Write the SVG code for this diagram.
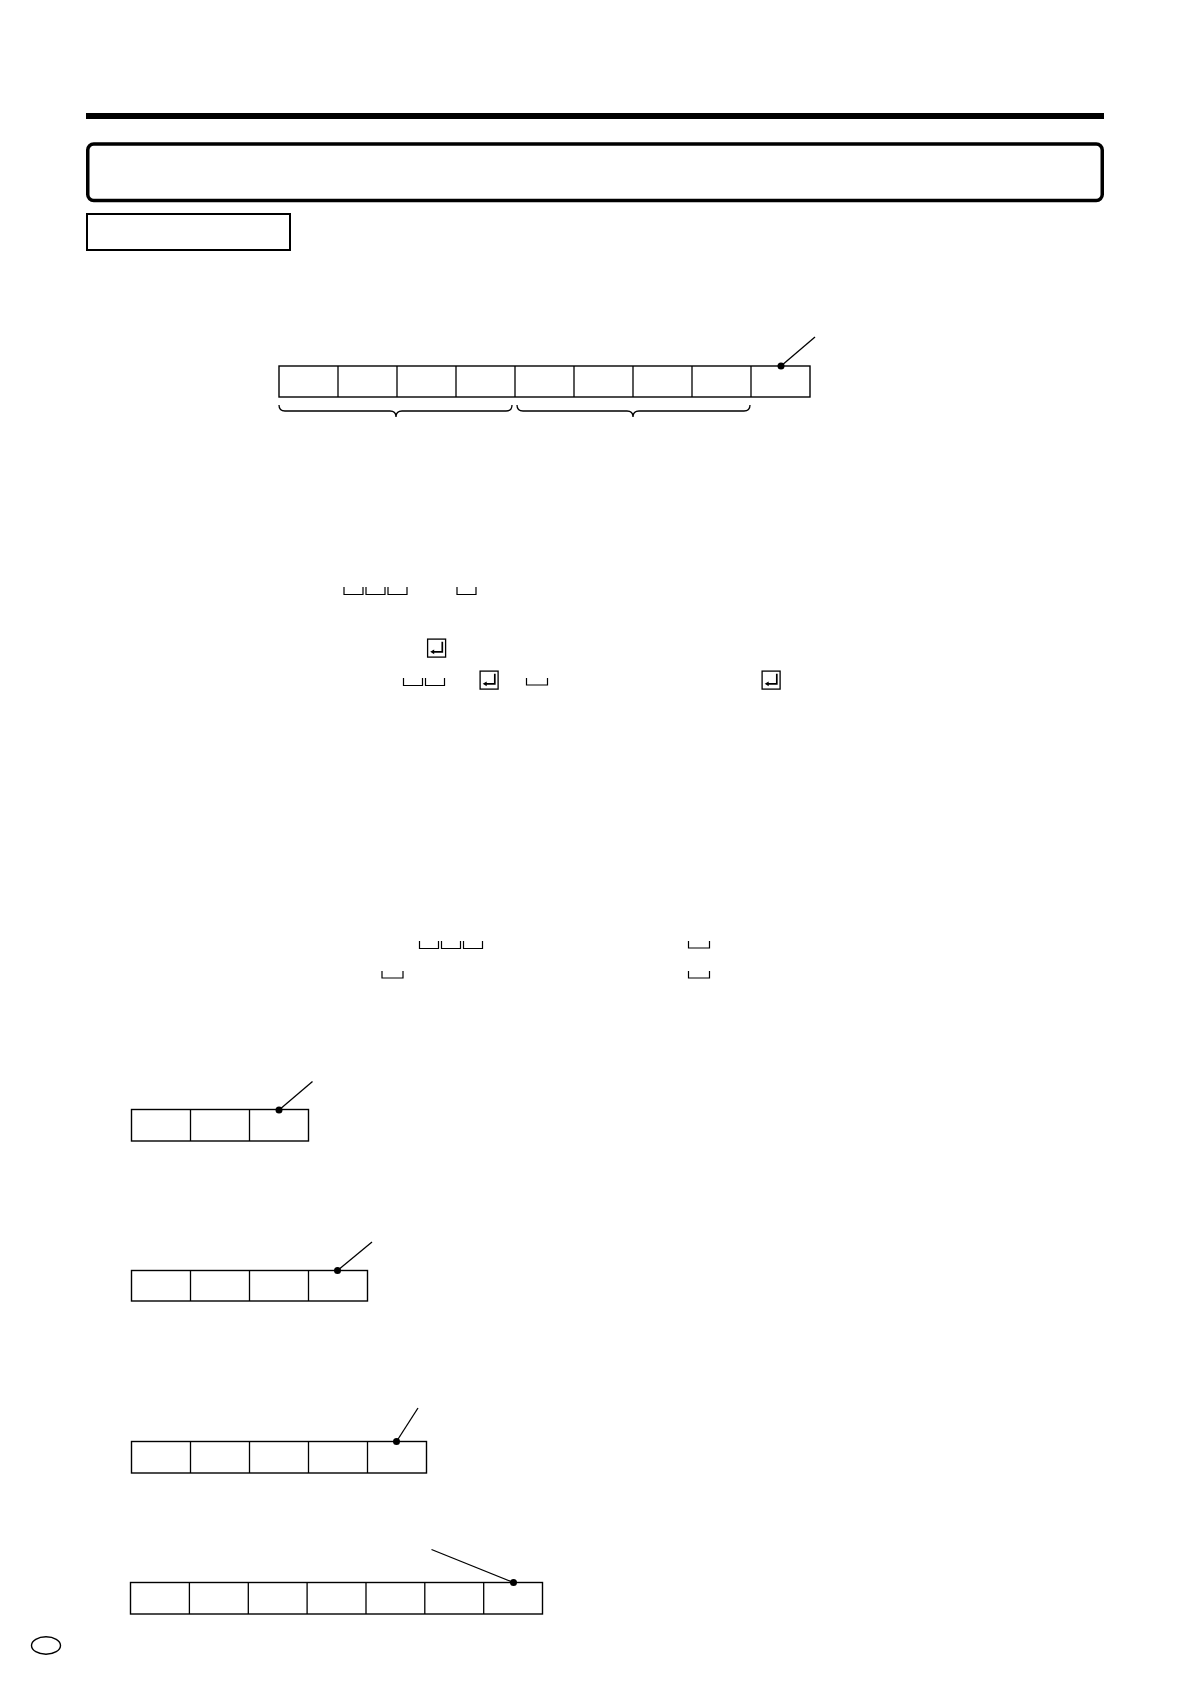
<svg xmlns="http://www.w3.org/2000/svg" width="1190" height="1684" viewBox="0 0 1190 1684">
<style>
.ln{fill:none;stroke:#000;stroke-width:1.3}
.cell{fill:#fff;stroke:#000;stroke-width:1.4}
.sp{fill:none;stroke:#000;stroke-width:1.2}
.dot{fill:#000}
</style>
<defs>
<g id="enter">
<rect x="0.6" y="0.6" width="18" height="18" fill="none" stroke="#000" stroke-width="1.3"/>
<path d="M15.3,3.2 V13.3 H6.5" fill="none" stroke="#000" stroke-width="1.7"/>
<path d="M3.2,13.3 L7.2,10.9 L7.2,15.7 Z" fill="#000"/>
</g>
<path id="sp19" d="M0,0 V7.5 H19 V0" class="sp"/>
<path id="sp21" d="M0,0 V7 H21 V0" class="sp"/>
</defs>
<rect width="1190" height="1684" fill="#fff"/>

<g id="header">
<rect x="86" y="113" width="1018" height="6" fill="#000"/>
<rect x="87.75" y="144" width="1014.5" height="56.5" rx="6" fill="none" stroke="#000" stroke-width="3.5"/>
<rect x="87" y="214" width="203" height="36" fill="none" stroke="#000" stroke-width="2"/>
</g>

<g id="main-cells">
<rect class="cell" x="279" y="366" width="531" height="31"/>
<path class="ln" d="M338,366 V397 M397,366 V397 M456,366 V397 M515,366 V397 M574,366 V397 M633,366 V397 M692,366 V397 M751,366 V397"/>
</g>
<g id="braces">
<path class="ln" d="M279,405 Q279,411 285,411 H390 Q396,411 396,417 Q396,411 402,411 H506 Q512,411 512,405"/>
<path class="ln" d="M517,405 Q517,411 523,411 H627 Q633,411 633,417 Q633,411 639,411 H744 Q750,411 750,405"/>
</g>

<g id="symbols">
<use href="#sp19" x="344" y="587"/>
<use href="#sp19" x="366" y="587"/>
<use href="#sp19" x="388" y="587"/>
<use href="#sp19" x="457" y="587"/>
<use href="#enter" x="427" y="638.5"/>
<use href="#sp19" x="403.5" y="678"/>
<use href="#sp19" x="425.5" y="678"/>
<use href="#enter" x="479.5" y="670.5"/>
<use href="#sp21" x="526.5" y="678"/>
<use href="#enter" x="761.5" y="670.5"/>
<use href="#sp19" x="419.5" y="941"/>
<use href="#sp19" x="441.5" y="941"/>
<use href="#sp19" x="463.5" y="941"/>
<use href="#sp21" x="688.5" y="941"/>
<use href="#sp21" x="382" y="971"/>
<use href="#sp21" x="688.5" y="971"/>
</g>

<g id="cells-3">
<rect class="cell" x="131.5" y="1109.5" width="177" height="31.5"/>
<path class="ln" d="M190.5,1109.5 V1141 M249.5,1109.5 V1141"/>
</g>
<g id="cells-4">
<rect class="cell" x="131.5" y="1270.5" width="236" height="30.5"/>
<path class="ln" d="M190.5,1270.5 V1301 M249.5,1270.5 V1301 M308.5,1270.5 V1301"/>
</g>
<g id="cells-5">
<rect class="cell" x="131.5" y="1441.5" width="295" height="31.5"/>
<path class="ln" d="M190.5,1441.5 V1473 M249.5,1441.5 V1473 M308.5,1441.5 V1473 M367.5,1441.5 V1473"/>
</g>
<g id="cells-7">
<rect class="cell" x="130.5" y="1582.5" width="412" height="31.5"/>
<path class="ln" d="M189.4,1582.5 V1614 M248.3,1582.5 V1614 M307.1,1582.5 V1614 M366,1582.5 V1614 M424.8,1582.5 V1614 M483.7,1582.5 V1614"/>
</g>

<g id="connectors">
<path class="ln" d="M781,366 L815,337"/>
<circle class="dot" cx="781" cy="366" r="3.5"/>
<path class="ln" d="M279,1110 L312.5,1081.5"/>
<circle class="dot" cx="279" cy="1110" r="3.5"/>
<path class="ln" d="M337.5,1270.5 L372,1242"/>
<circle class="dot" cx="337.5" cy="1270.5" r="3.5"/>
<path class="ln" d="M396.5,1441.5 L418,1408"/>
<circle class="dot" cx="396.5" cy="1441.5" r="3.5"/>
<path class="ln" d="M513.5,1582.5 L431.5,1549.5"/>
<circle class="dot" cx="513.5" cy="1582.5" r="3.5"/>
</g>

<g id="page-mark">
<ellipse cx="46" cy="1645.5" rx="14.5" ry="8.8" fill="none" stroke="#000" stroke-width="1.4"/>
</g>
</svg>
